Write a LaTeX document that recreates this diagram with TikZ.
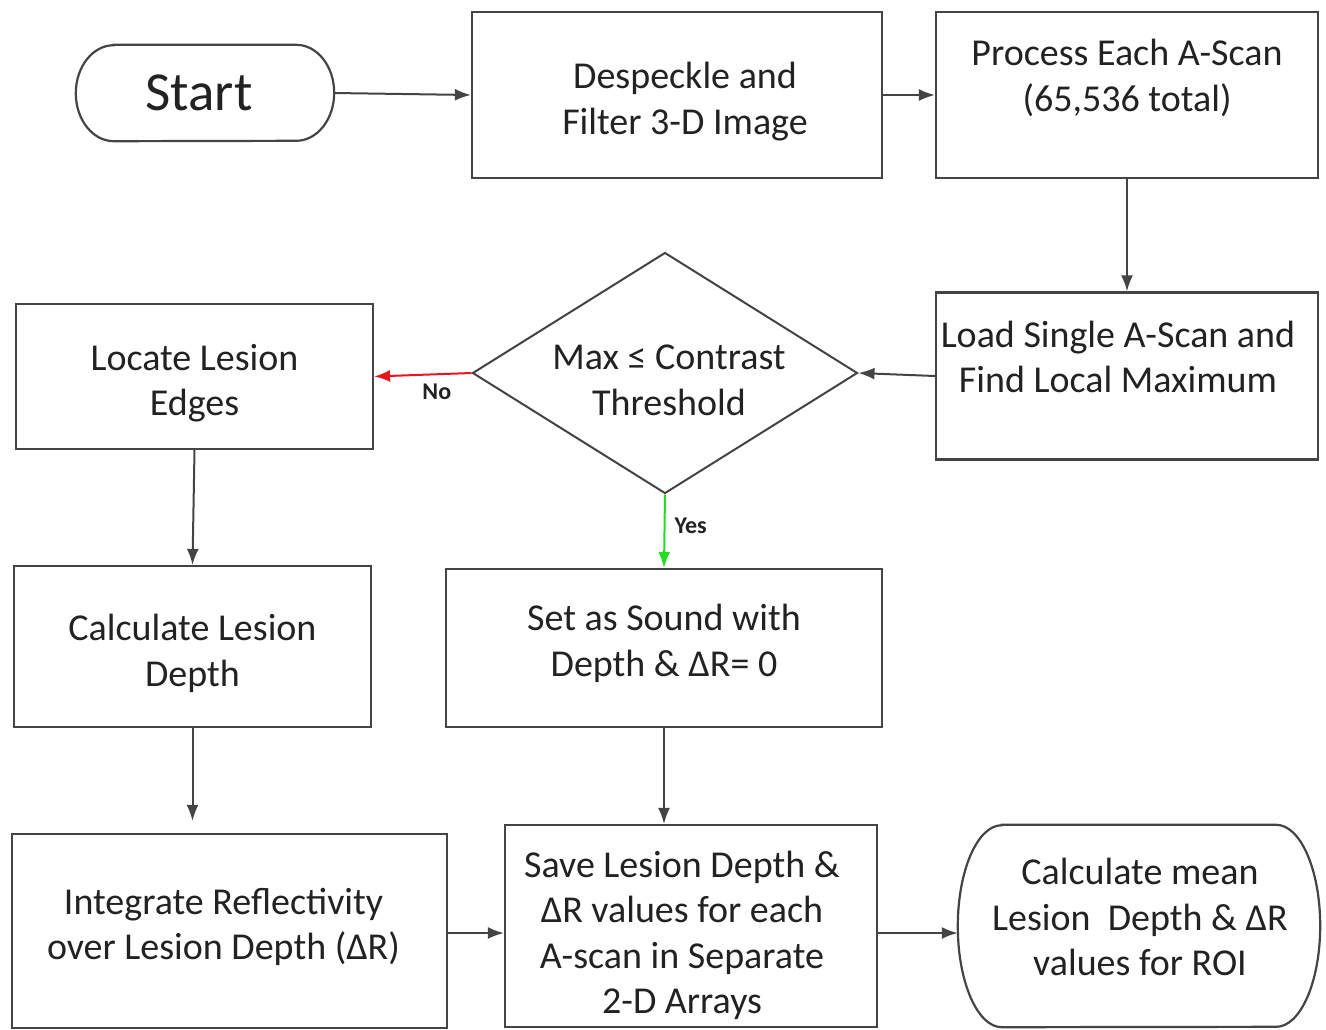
\documentclass[tikz,border=0pt]{standalone}
\usepackage{fontspec}
\setmainfont{Carlito}
\usetikzlibrary{shapes.geometric,arrows.meta}
\definecolor{boxline}{HTML}{444444}
\definecolor{txt}{HTML}{222222}
\definecolor{nored}{HTML}{E8141E}
\definecolor{yesgreen}{HTML}{22DD22}
\begin{document}
\begin{tikzpicture}[x=1pt,y=-1pt,
  box/.style={draw=boxline,line width=2.2pt,rectangle,inner sep=0pt},
  plain/.style={draw=none,inner sep=0pt},
  tx/.style={inner sep=0pt,align=center,text=txt,font=\fontsize{38}{45.5}\selectfont},
  arr/.style={draw=boxline,line width=2pt,-{Latex[length=16pt,width=12pt]}},
  lbl/.style={font=\fontsize{24}{26}\selectfont\bfseries,text=txt,inner sep=0pt}]
\useasboundingbox (0,0) rectangle (1326,1029);
% shapes
\node[plain,minimum width=258pt,minimum height=96pt] (start) at (205,93) {};
\node[box,minimum width=410pt,minimum height=166pt] (desp) at (677,95) {};
\node[box,minimum width=382pt,minimum height=166pt] (proc) at (1127,95) {};
\node[box,minimum width=382pt,minimum height=167pt] (load) at (1127,376) {};
\node[diamond,aspect=1.6,draw=boxline,line width=2pt,inner sep=0pt,minimum width=385pt,minimum height=241pt] (dec) at (665,373) {};
\node[box,minimum width=357pt,minimum height=145pt] (loc) at (194.5,376.5) {};
\node[box,minimum width=357pt,minimum height=161pt] (calc) at (192.5,646.5) {};
\node[box,minimum width=436pt,minimum height=158pt] (sound) at (664,648) {};
\node[box,minimum width=435pt,minimum height=194pt] (integ) at (229.5,931) {};
\node[box,minimum width=372pt,minimum height=202pt] (save) at (691,926) {};
\node[plain,minimum width=362pt,minimum height=202pt] (mean) at (1139,926) {};
% texts
\node[tx,font=\fontsize{55}{60}\selectfont] (start-t) at ([shift={(-6,0)}]start.center) {Start};
\node[tx] (desp-t) at ([shift={(8,6.5)}]desp.center) {Despeckle and\\Filter 3-D Image};
\node[tx] (proc-t) at ([shift={(0,-17)}]proc.center) {Process Each A-Scan\\(65,536 total)};
\node[tx] (load-t) at ([shift={(-9,-19)}]load.center) {Load Single A-Scan and\\Find Local Maximum};
\node[tx] (dec-t) at ([shift={(4,7.5)}]dec.center) {Max ≤ Contrast\\Threshold};
\node[tx] (loc-t) at ([shift={(0,6.5)}]loc.center) {Locate Lesion\\Edges};
\node[tx] (calc-t) at ([shift={(0,7)}]calc.center) {Calculate Lesion\\Depth};
\node[tx] (sound-t) at ([shift={(0,-4.5)}]sound.center) {Set as Sound with\\Depth \& ΔR= 0};
\node[tx] (integ-t) at ([shift={(-6,-4)}]integ.center) {Integrate Reflectivity\\over Lesion Depth (ΔR)};
\node[tx] (save-t) at ([shift={(-9,9.5)}]save.center) {Save Lesion Depth \&\\ΔR values for each\\A-scan in Separate\\2-D Arrays};
\node[tx] (mean-t) at ([shift={(1,-9)}]mean.center) {Calculate mean\\Lesion~~Depth \& ΔR\\values for ROI};
% pill outlines
\draw[boxline,line width=2.2pt] ([xshift=38pt]start.north west) -- ([xshift=-38pt]start.north east)
  arc[start angle=90,end angle=-90,x radius=38pt,y radius=48pt]
  -- ([xshift=38pt]start.south west)
  arc[start angle=270,end angle=90,x radius=38pt,y radius=48pt] -- cycle;
\draw[boxline,line width=2.2pt] ([xshift=44pt]mean.north west) -- ([xshift=-44pt]mean.north east)
  arc[start angle=90,end angle=-90,x radius=44pt,y radius=101pt]
  -- ([xshift=44pt]mean.south west)
  arc[start angle=270,end angle=90,x radius=44pt,y radius=101pt] -- cycle;
% connectors
\draw[arr] (start.east) -- (desp.west);
\draw[arr] (desp.east) -- (proc.west);
\draw[arr] (proc.south) -- (load.north);
\draw[arr] (load.west) -- (dec.east);
\draw[arr,color=nored] (dec.west) -- node[lbl,below=8pt,xshift=14pt]{No} (loc.east);
\draw[arr,color=yesgreen] (dec.south) -- node[lbl,right=9pt,yshift=5pt]{Yes} (sound.north);
\draw[arr] (loc.south) -- (calc.north);
\draw[arr,shorten >=12pt] (calc.south) -- (calc.south |- integ.north);
\draw[arr] (sound.south) -- (sound.south |- save.north);
\draw[arr] (integ.east |- 0,933) -- (save.west |- 0,933);
\draw[arr] (save.east |- 0,933) -- (mean.west |- 0,933);
\end{tikzpicture}
\end{document}
